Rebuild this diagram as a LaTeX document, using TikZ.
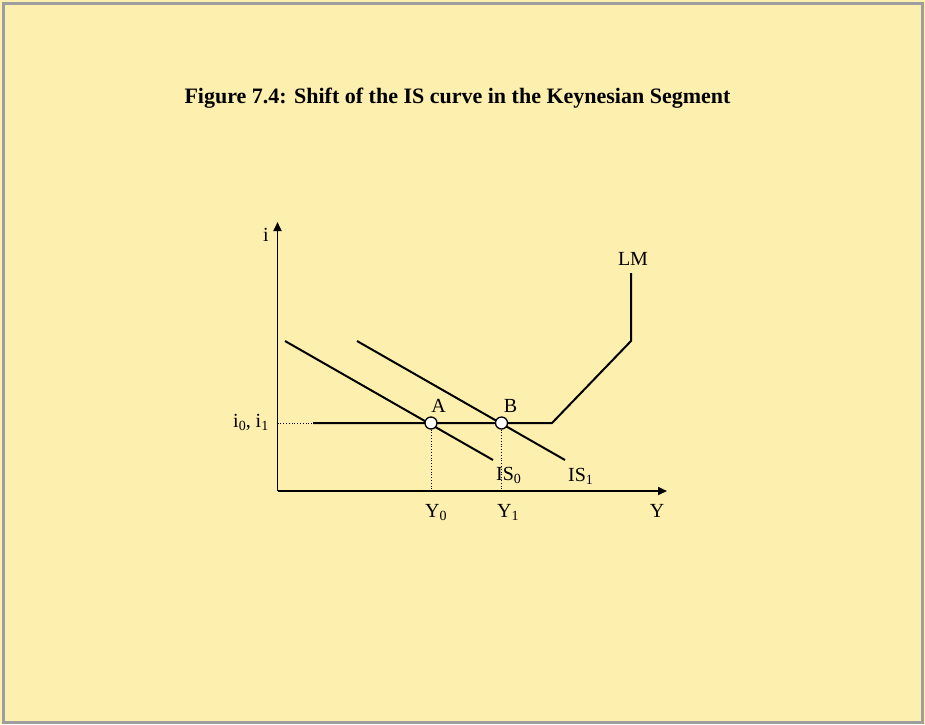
\documentclass[tikz,border=0pt]{standalone}
\usepackage{fontspec}
\setmainfont{Liberation Serif}
\usetikzlibrary{arrows.meta}
\definecolor{bgyellow}{RGB}{253,239,174}
\definecolor{framegray}{RGB}{158,158,158}
\newcommand{\lsub}[1]{\raisebox{-0.35ex}{\fontsize{14}{14}\selectfont #1}}
\begin{document}
\begin{tikzpicture}[x=1pt,y=-1pt,
  lbl/.style={font=\fontsize{20}{22}\selectfont, inner sep=0pt, anchor=base},
  curve/.style={line width=2pt, line join=miter},
  axis/.style={line width=1.8pt, -{Triangle[length=9pt,width=8pt]}},
  guide/.style={line width=0.8pt, dotted},
  pt/.style={circle, draw, fill=white, line width=1.3pt, minimum size=12pt, inner sep=0pt}]
\useasboundingbox (0,0) rectangle (925,724);
\fill[bgyellow] (0,0) rectangle (925,724);
\draw[framegray, line width=3pt] (3.5,3.5) rectangle (922.5,722);
% title
\node[lbl, font=\fontsize{22}{24}\selectfont\bfseries] (title) at (457.5,103) {Figure 7.4: Shift of the IS curve in the Keynesian Segment};
% axes
\coordinate (O) at (277.5,491);
\coordinate (ytop) at (277.5,222);
\coordinate (xend) at (667,491);
\draw[axis] (O) -- (ytop);
\draw[axis] (O) -- (xend);
% LM
\coordinate (lm1) at (313,423);
\coordinate (lm2) at (552,423);
\coordinate (lm3) at (631,341);
\coordinate (lm4) at (631,273);
\draw[curve] (lm1) -- (lm2) -- (lm3) -- (lm4);
% IS curves
\coordinate (is0a) at (285,341);
\coordinate (is0b) at (493,460);
\coordinate (is1a) at (357,341);
\coordinate (is1b) at (565,460);
\draw[curve] (is0a) -- (is0b);
\draw[curve] (is1a) -- (is1b);
% guides
\coordinate (iax) at (277.5,423);
\coordinate (Y0) at (431,491);
\coordinate (Y1) at (501.5,491);
\draw[guide] (iax) -- (lm1);
\node[pt] (A) at (431,423) {};
\node[pt] (B) at (501.5,423) {};
\draw[guide] (A.south) -- (Y0);
\draw[guide] (B.south) -- (Y1);
% labels
\node[lbl] (il) at (266,241) {i};
\node[lbl] (Yl) at (657,517) {Y};
\node[lbl] (LMl) at (633,265) {LM};
\node[lbl] (Al) at (438.5,412) {A};
\node[lbl] (Bl) at (510.5,412) {B};
\node[lbl, anchor=base west] (IS0l) at (496,480) {IS\lsub{0}};
\node[lbl, anchor=base west] (IS1l) at (568,481) {IS\lsub{1}};
\node[lbl, anchor=base west] (Y0l) at (425,517) {Y\lsub{0}};
\node[lbl, anchor=base west] (Y1l) at (497,517) {Y\lsub{1}};
\node[lbl, anchor=base west] (il01) at (233,427) {i\lsub{0}, i\lsub{1}};
\end{tikzpicture}
\end{document}
